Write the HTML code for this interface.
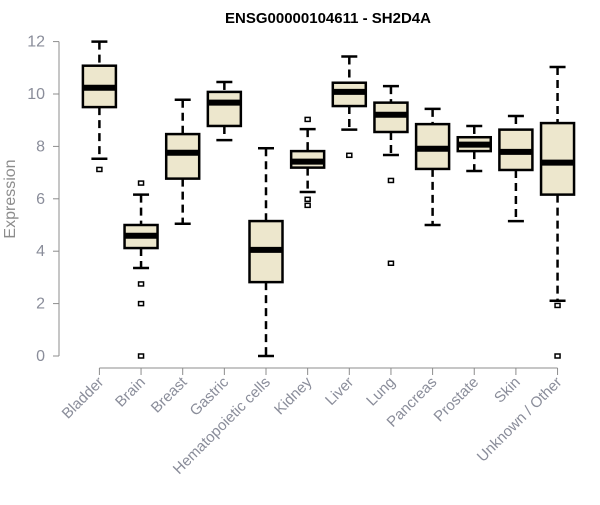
<!DOCTYPE html>
<html><head><meta charset="utf-8"><style>
body{margin:0;background:#fff}
svg text{font-family:"Liberation Sans",sans-serif}
</style></head><body>
<svg id="chart" width="600" height="500">
<text x="328" y="23" text-anchor="middle" font-weight="bold" font-size="15" fill="#000">ENSG00000104611 - SH2D4A</text>
<text transform="translate(15,199) rotate(-90)" text-anchor="middle" font-size="16" fill="#8c8c8c">Expression</text>
<g id="g"></g>
</svg>
<script>
const categories=["Bladder","Brain","Breast","Gastric","Hematopoietic cells","Kidney","Liver","Lung","Pancreas","Prostate","Skin","Unknown / Other"];
const lowWhisker=[7.53,3.36,5.05,8.24,0,6.26,8.64,7.67,5.0,7.06,5.15,2.11];
const q1=[9.5,4.12,6.77,8.78,2.82,7.19,9.54,8.55,7.14,7.82,7.1,6.16];
const median=[10.24,4.59,7.76,9.67,4.05,7.42,10.08,9.21,7.91,8.07,7.79,7.38];
const q3=[11.08,5.0,8.47,10.08,5.15,7.82,10.43,9.67,8.85,8.35,8.64,8.89];
const highWhisker=[12.0,6.16,9.78,10.46,7.93,8.66,11.43,10.3,9.43,8.78,9.16,11.03];
const outliers=[[7.12],[6.6,2.75,2.0,0],[],[],[],[9.03,5.98,5.75],[7.66],[6.7,3.54],[],[],[],[1.93,0]];
const yTicks=[0,2,4,6,8,10,12];

const NS="http://www.w3.org/2000/svg";
const g=document.getElementById('g');
const y=v=>356-v*26.2;
const x=i=>99.4+i*41.65;
function mk(t,a,p){const e=document.createElementNS(NS,t);for(const k in a)e.setAttribute(k,a[k]);(p||g).appendChild(e);return e;}
let ax=mk('line',{x1:59,x2:59,y1:y(0),y2:y(12),stroke:'#8c8c8c','stroke-width':1});


yTicks.forEach(v=>{
 let t=mk('line',{x1:53,x2:59,y1:y(v),y2:y(v),stroke:'#8c8c8c'});
 
 
 let l=mk('text',{x:45,y:y(v)+5,'text-anchor':'end','font-size':16,fill:'#8a8d9a'});
 l.textContent=v;
 
 
});
let xa=mk('line',{x1:x(0),x2:x(categories.length-1),y1:368,y2:368,stroke:'#8c8c8c'});


categories.forEach((c,i)=>{
 const cx=x(i),hw=16.5;
 let tk=mk('line',{x1:cx,x2:cx,y1:368,y2:375,stroke:'#8c8c8c'});
 
 
 let lb=mk('text',{transform:`translate(${cx+5},${383}) rotate(-45)`,'text-anchor':'end','font-size':15,fill:'#8a8d9a'});
 lb.textContent=c;
 
 
 const box=mk('g',{});
 
 
 mk('line',{x1:cx,x2:cx,y1:y(highWhisker[i]),y2:y(q3[i]),stroke:'#000','stroke-width':2.5,'stroke-dasharray':'8,5'},box);
 mk('line',{x1:cx,x2:cx,y1:y(q1[i]),y2:y(lowWhisker[i]),stroke:'#000','stroke-width':2.5,'stroke-dasharray':'8,5'},box);
 mk('line',{x1:cx-8,x2:cx+8,y1:y(highWhisker[i]),y2:y(highWhisker[i]),stroke:'#000','stroke-width':2.5},box);
 mk('line',{x1:cx-8,x2:cx+8,y1:y(lowWhisker[i]),y2:y(lowWhisker[i]),stroke:'#000','stroke-width':2.5},box);
 mk('rect',{x:cx-hw,y:y(q3[i]),width:2*hw,height:y(q1[i])-y(q3[i]),fill:'#ede7cd',stroke:'#000','stroke-width':2.5},box);
 mk('line',{x1:cx-hw,x2:cx+hw,y1:y(median[i]),y2:y(median[i]),stroke:'#000','stroke-width':6},box);
 outliers[i].forEach(v=>{
  let o=mk('rect',{x:cx-2.5,y:y(v)-2,width:5,height:4,fill:'none',stroke:'#000','stroke-width':1.5});
  
  
 });
});
</script>
</body></html>
